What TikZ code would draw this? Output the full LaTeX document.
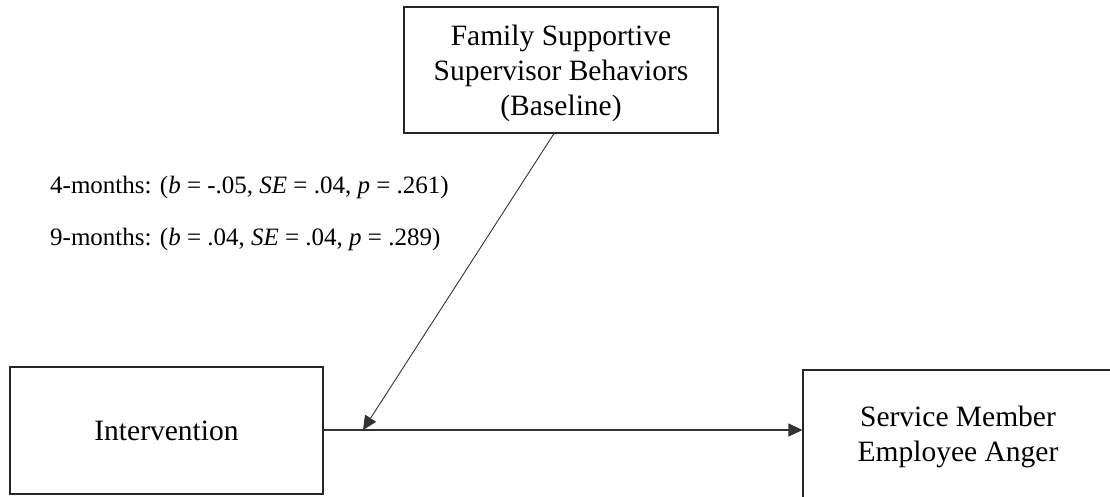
\documentclass[tikz,border=0pt]{standalone}
\usepackage{fontspec}
\setmainfont{Liberation Serif}
\usetikzlibrary{arrows.meta}
\newcommand{\lowertxt}[2]{\raisebox{-#1}[\height][\depth]{\begin{tabular}{@{}c@{}}#2\end{tabular}}}
\begin{document}
\begin{tikzpicture}[x=1pt,y=-1pt,
  varbox/.style={draw=black!85,line width=1.1pt,rectangle,inner sep=0pt,align=center,
    font=\fontsize{29.5}{35}\selectfont},
  lbl/.style={anchor=base west,inner sep=0pt,font=\fontsize{25}{30}\selectfont},
  conn/.style={draw=black!80,line width=1.1pt,-{Triangle[length=14pt,width=13pt]}}]
\useasboundingbox (0,0) rectangle (1110,496);
\node[varbox,minimum width=314pt,minimum height=126pt] (fssb) at (561,70)
  {\lowertxt{3pt}{Family Supportive\\Supervisor Behaviors\\(Baseline)}};
\node[varbox,minimum width=313pt,minimum height=127pt] (int) at (166.5,430.5) {Intervention};
\node[varbox,minimum width=310pt,minimum height=128pt] (svc) at (958,434)
  {\lowertxt{3pt}{Service Member\\Employee Anger}};
\node[lbl] (l4) at (50,193) {4-months: (\textit{b} = -.05, \textit{SE} = .04, \textit{p} = .261)};
\node[lbl] (l9) at (50,245) {9-months: (\textit{b} = .04, \textit{SE} = .04, \textit{p} = .289)};
\coordinate (src) at ([xshift=-7pt]fssb.south);
\coordinate (mod) at (363,430);
\draw[conn] (int.east |- 0,430) -- (svc.west |- 0,430);
\draw[conn,line width=0.9pt] (src) -- (mod);
\end{tikzpicture}
\end{document}
